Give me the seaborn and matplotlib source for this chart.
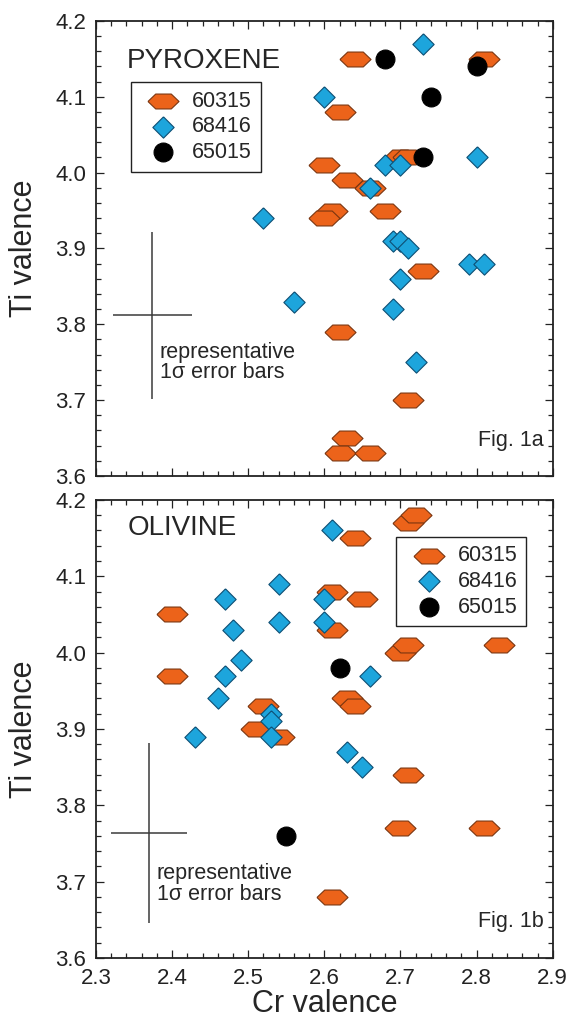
import numpy as np
import pandas as pd
import seaborn as sns
import matplotlib.pyplot as plt
from matplotlib.ticker import MultipleLocator

# ---- Fig. 1a : pyroxene ----
pyx_60315_cr = [2.64, 2.81, 2.62, 2.60, 2.70, 2.71, 2.63, 2.66, 2.61, 2.60, 2.68, 2.73, 2.62, 2.71, 2.63, 2.62, 2.66]
pyx_60315_ti = [4.15, 4.15, 4.08, 4.01, 4.02, 4.02, 3.99, 3.98, 3.95, 3.94, 3.95, 3.87, 3.79, 3.70, 3.65, 3.63, 3.63]
pyx_68416_cr = [2.73, 2.60, 2.68, 2.70, 2.66, 2.52, 2.80, 2.69, 2.70, 2.71, 2.79, 2.81, 2.70, 2.56, 2.69, 2.72]
pyx_68416_ti = [4.17, 4.10, 4.01, 4.01, 3.98, 3.94, 4.02, 3.91, 3.91, 3.90, 3.88, 3.88, 3.86, 3.83, 3.82, 3.75]
pyx_65015_cr = [2.68, 2.80, 2.74, 2.73]
pyx_65015_ti = [4.15, 4.14, 4.10, 4.02]

# ---- Fig. 1b : olivine ----
oli_60315_cr = [2.71, 2.72, 2.64, 2.61, 2.65, 2.40, 2.61, 2.40, 2.70, 2.71, 2.83, 2.52, 2.63, 2.64, 2.51, 2.54, 2.71, 2.70, 2.81, 2.61]
oli_60315_ti = [4.17, 4.18, 4.15, 4.08, 4.07, 4.05, 4.03, 3.97, 4.00, 4.01, 4.01, 3.93, 3.94, 3.93, 3.90, 3.89, 3.84, 3.77, 3.77, 3.68]
oli_68416_cr = [2.61, 2.54, 2.47, 2.60, 2.54, 2.60, 2.48, 2.49, 2.47, 2.66, 2.46, 2.53, 2.53, 2.53, 2.43, 2.63, 2.65]
oli_68416_ti = [4.16, 4.09, 4.07, 4.07, 4.04, 4.04, 4.03, 3.99, 3.97, 3.97, 3.94, 3.92, 3.91, 3.89, 3.89, 3.87, 3.85]
oli_65015_cr = [2.62, 2.55]
oli_65015_ti = [3.98, 3.76]

samples = ["60315", "68416", "65015"]

# representative 1 sigma error bars (center, half widths)
err_a = (2.374, 3.812, 0.052, 0.11)
err_b = (2.370, 3.764, 0.050, 0.118)

hexagon = [(-1, 0), (-0.5, 0.48), (0.5, 0.48), (1, 0), (0.5, -0.48), (-0.5, -0.48), (-1, 0)]
diamond = [(0, 1), (1, 0), (0, -1), (-1, 0), (0, 1)]
styles = {
    "60315": dict(marker=hexagon, s=500, color="#EC631A", edgecolor="#7A3510", linewidth=0.8),
    "68416": dict(marker=diamond, s=235, color="#1DA5DC", edgecolor="#0E4F74", linewidth=0.8),
    "65015": dict(marker="o", s=185, color="black", edgecolor="black", linewidth=0.8),
}

sns.set_style("ticks")
plt.rcParams["font.family"] = ["Liberation Sans", "DejaVu Sans"]

fig = plt.figure(figsize=(5.71, 10.19), dpi=100)
ax1 = fig.add_axes([0.168, 0.5329, 0.800, 0.4465])
ax2 = fig.add_axes([0.168, 0.0599, 0.800, 0.4495])

panels = [
    (ax1, [(pyx_60315_cr, pyx_60315_ti), (pyx_68416_cr, pyx_68416_ti), (pyx_65015_cr, pyx_65015_ti)],
     "PYROXENE", 4.138, "Fig. 1a", err_a, (2.384, 3.777)),
    (ax2, [(oli_60315_cr, oli_60315_ti), (oli_68416_cr, oli_68416_ti), (oli_65015_cr, oli_65015_ti)],
     "OLIVINE", 4.154, "Fig. 1b", err_b, (2.380, 3.724)),
]

for ax, series, name, name_y, fig_tag, err, txt_xy in panels:
    for smp, (cr, ti) in zip(samples, series):
        df = pd.DataFrame({"Cr": cr, "Ti": ti})
        sns.scatterplot(data=df, x="Cr", y="Ti", ax=ax, label=smp, legend=False, **styles[smp])

    ex, ey, dx, dy = err
    ax.errorbar([ex], [ey], xerr=[dx], yerr=[dy], fmt="none", ecolor="#3a3a3a", elinewidth=1.1, capsize=0)
    ax.text(txt_xy[0], txt_xy[1], "representative\n1σ error bars", fontsize=15.5, va="top", ha="left",
            linespacing=0.95)
    ax.text(2.341, name_y, name, fontsize=20, va="baseline", ha="left")
    ax.text(2.888, 3.640, fig_tag, fontsize=15.5, va="baseline", ha="right")

    ax.set_xlim(2.3, 2.9)
    ax.set_ylim(3.6, 4.2)
    ax.xaxis.set_major_locator(MultipleLocator(0.1))
    ax.xaxis.set_minor_locator(MultipleLocator(0.02))
    ax.yaxis.set_major_locator(MultipleLocator(0.1))
    ax.yaxis.set_minor_locator(MultipleLocator(0.02))
    ax.yaxis.set_major_formatter(plt.FormatStrFormatter("%.1f"))
    ax.xaxis.set_major_formatter(plt.FormatStrFormatter("%.1f"))
    ax.tick_params(which="both", direction="in", top=True, right=True, width=0.9, colors="#222222")
    ax.tick_params(which="major", length=5.5, pad=7, labelsize=16)
    ax.tick_params(which="minor", length=3.3)
    for sp in ax.spines.values():
        sp.set_linewidth(1.3)
        sp.set_color("#222222")
    ax.set_ylabel("Ti valence", fontsize=22)
    ax.yaxis.set_label_coords(-0.124, 0.5)

    handles, labels = ax.get_legend_handles_labels()
    leg_anchor = (2.346, 4.1196) if ax is ax1 else (2.865, 4.152)
    leg_loc = "upper left" if ax is ax1 else "upper right"
    leg = ax.legend(handles, labels, loc=leg_loc, bbox_to_anchor=leg_anchor, bbox_transform=ax.transData,
                    fontsize=15.5, frameon=True, fancybox=False, framealpha=1, edgecolor="#222222",
                    borderpad=0.4, handlelength=2.2, handletextpad=0.25, labelspacing=0.22,
                    borderaxespad=0)
    leg.get_frame().set_linewidth(1.0)

ax1.set_xlabel("")
ax1.tick_params(labelbottom=False)
ax2.set_xlabel("Cr valence", fontsize=22)
ax2.xaxis.set_label_coords(0.5, -0.068)

fig.savefig("out.png", dpi=100)
